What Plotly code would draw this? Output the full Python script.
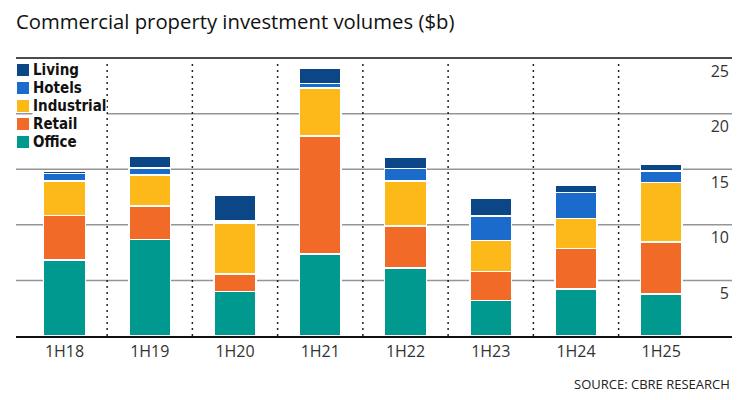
import plotly.graph_objects as go

periods = ["1H18", "1H19", "1H20", "1H21", "1H22", "1H23", "1H24", "1H25"]
office = [6.85, 8.7, 4.0, 7.4, 6.1, 3.2, 4.25, 3.8]
retail = [4.0, 3.0, 1.6, 10.6, 3.8, 2.6, 3.6, 4.65]
industrial = [3.1, 2.8, 4.55, 4.3, 4.05, 2.8, 2.7, 5.35]
hotels = [0.66, 0.6, 0.2, 0.4, 1.1, 2.2, 2.35, 1.05]
living = [0.21, 1.05, 2.35, 1.35, 1.0, 1.6, 0.65, 0.6]
y_ticks = [5, 10, 15, 20, 25]

series = [
    ("Office", office, "#00998F"),
    ("Retail", retail, "#F26A27"),
    ("Industrial", industrial, "#FDB81A"),
    ("Hotels", hotels, "#1A6BCC"),
    ("Living", living, "#0B4787"),
]

W, H = 753, 400
Y_MAX = 26            # axis range top (the 25 line sits at pixel 58)
X_RANGE = [-0.569, 7.83]
PX_PER_UNIT = 278 / 25
L, R, B = 16, 21, 64
T = round(58 - (Y_MAX - 25) * PX_PER_UNIT)
plot_w = W - L - R
plot_h = H - T - B

def px_x(p):
    return (p - L) / plot_w

def px_y(p):
    return (H - B - p) / plot_h

FONT = "Open Sans"
LEG_FONT = "DejaVu Sans Condensed, DejaVu Sans"

fig = go.Figure()
for name, vals, color in series:
    fig.add_trace(go.Bar(
        x=periods, y=vals, name=name,
        marker=dict(color=color, line=dict(color="white", width=1.5)),
        width=0.49, showlegend=False,
    ))

shapes = []
# horizontal grid lines at the tick values (top one is the dark frame line)
for v in y_ticks:
    top = v == max(y_ticks)
    shapes.append(dict(type="line", xref="x", yref="y", x0=X_RANGE[0], x1=X_RANGE[1],
                       y0=v, y1=v, layer="below",
                       line=dict(color="#111111" if top else "#959595", width=1.5)))
# dotted separators between periods
for k in range(len(periods) - 1):
    shapes.append(dict(type="line", xref="x", yref="y", x0=k + 0.5, x1=k + 0.5,
                       y0=0, y1=24.8, layer="below",
                       line=dict(color="#222222", width=1.5, dash="2px,4px")))

# manual legend (top to bottom: Living ... Office)
annotations = []
legend_top = 70
for i, (name, vals, color) in enumerate(reversed(series)):
    cy = legend_top + i * 18
    shapes.append(dict(type="rect", xref="paper", yref="paper",
                       x0=px_x(17), x1=px_x(29), y0=px_y(cy + 6), y1=px_y(cy - 6),
                       fillcolor=color, line=dict(width=0), layer="above"))
    annotations.append(dict(text=name, xref="paper", yref="paper",
                            x=px_x(32), y=px_y(cy), xanchor="left", yanchor="middle",
                            showarrow=False, bgcolor="white", borderpad=0,
                            font=dict(family=LEG_FONT, size=15, color="#111111", weight="bold")))

annotations.append(dict(text="SOURCE: CBRE RESEARCH", xref="paper", yref="paper",
                        x=1, y=px_y(384), xanchor="right", yanchor="middle",
                        showarrow=False,
                        font=dict(family=FONT, size=13, color="#222222")))

fig.update_layout(
    width=W, height=H, autosize=False,
    margin=dict(l=L, r=R, t=T, b=B, pad=0),
    paper_bgcolor="white", plot_bgcolor="rgba(0,0,0,0)",
    barmode="stack",
    title=dict(text="Commercial property investment volumes ($b)",
               x=L / W, xref="container", xanchor="left",
               y=1 - 22 / H, yref="container", yanchor="middle",
               font=dict(family=FONT, size=20.3, color="#111111")),
    xaxis=dict(type="category", range=X_RANGE, showgrid=False,
               showline=True, linecolor="#111111", linewidth=2,
               ticks="", tickfont=dict(family=FONT, size=16, color="#333333"),
               fixedrange=True),
    yaxis=dict(range=[0, Y_MAX], tickvals=y_ticks, side="right",
               ticklabelposition="inside", ticklabelshift=13,
               showgrid=False, zeroline=False, showline=False,
               ticks="", tickfont=dict(family=FONT, size=16, color="#333333"),
               fixedrange=True),
    shapes=shapes,
    annotations=annotations,
    showlegend=False,
)

fig.write_html("out.html")
